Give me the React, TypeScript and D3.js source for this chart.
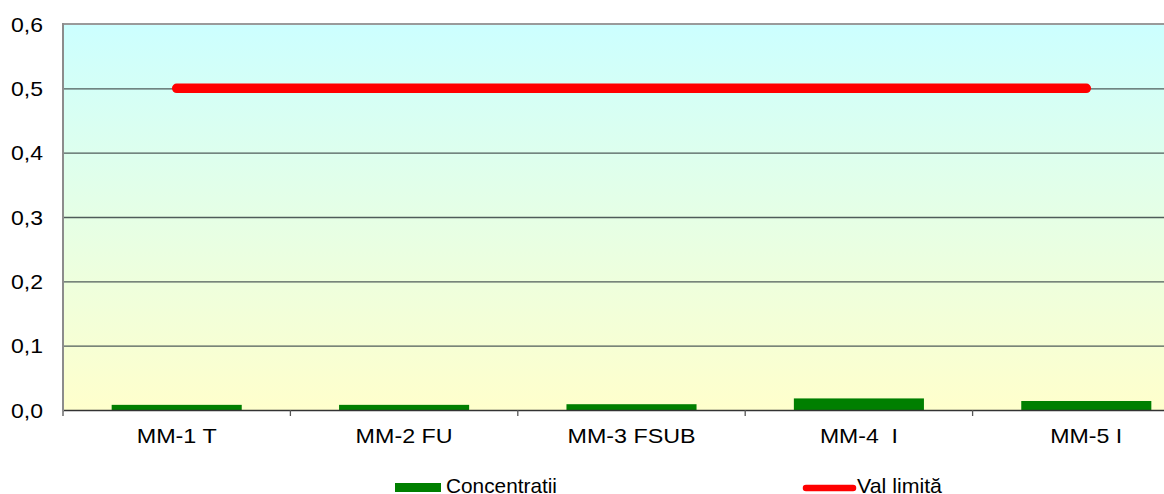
import React from "react";
import * as d3 from "d3";

const categories = ["MM-1 T", "MM-2 FU", "MM-3 FSUB", "MM-4  I", "MM-5 I"];
const categoryLabelWidths = [80, 97, 128, 78, 72];
const concentratii = [0.008, 0.008, 0.009, 0.018, 0.014];
const valLimita = [0.5, 0.5, 0.5, 0.5, 0.5];
const yTicks = [0, 0.1, 0.2, 0.3, 0.4, 0.5, 0.6];

const W = 1164;
const H = 494;
const plotLeft = 63;
const plotTop = 24;
const plotBottom = 410;
const plotRight = 1200;
const FONT = 21;

export default function App() {
  const x = d3.scaleBand<string>().domain(categories).range([plotLeft, plotRight]).paddingInner(0).paddingOuter(0);
  const y = d3.scaleLinear().domain([0, 0.6]).range([plotBottom, plotTop]);
  const barW = x.bandwidth() * 0.572;
  const fmt = (v: number) => v.toFixed(1).replace(".", ",");

  const line = d3
    .line<number>()
    .x((_, i) => (x(categories[i]) as number) + x.bandwidth() / 2)
    .y((d) => y(d));

  const boundaries = d3.range(categories.length + 1).map((i) => plotLeft + i * x.bandwidth());

  return (
    <svg
      width={W}
      height={H}
      style={{ position: "fixed", left: 0, top: 0, background: "#fff" }}
      fontFamily="'Liberation Sans', Arial, sans-serif"
    >
      <defs>
        <linearGradient id="bg" x1="0" y1="0" x2="0" y2="1">
          <stop offset="0%" stopColor="#ccffff" />
          <stop offset="100%" stopColor="#ffffcc" />
        </linearGradient>
      </defs>
      <rect x={plotLeft} y={plotTop} width={plotRight - plotLeft} height={plotBottom - plotTop} fill="url(#bg)" />
      <line x1={plotLeft} x2={plotRight} y1={plotTop} y2={plotTop} stroke="#9a9a9a" strokeWidth={2} />
      {yTicks.slice(1, -1).map((t) => (
        <line key={t} x1={plotLeft} x2={plotRight} y1={y(t) + 0.5} y2={y(t) + 0.5} stroke="#4f5c5a" strokeWidth={1.3} />
      ))}
      {concentratii.map((v, i) => {
        const cx = (x(categories[i]) as number) + x.bandwidth() / 2;
        return <rect key={i} x={cx - barW / 2} y={y(v)} width={barW} height={plotBottom - y(v)} fill="#007f00" />;
      })}
      <line x1={plotLeft} x2={plotRight} y1={plotBottom + 0.5} y2={plotBottom + 0.5} stroke="#333" strokeWidth={1.3} />
      {boundaries.map((bx, i) => (
        <line key={i} x1={bx} x2={bx} y1={plotBottom} y2={plotBottom + 6} stroke="#555" strokeWidth={1.3} />
      ))}
      <line x1={plotLeft} x2={plotLeft} y1={plotTop - 1} y2={plotBottom + 1} stroke="#8c8c8c" strokeWidth={2} />
      <path d={line(valLimita) ?? ""} fill="none" stroke="#ff0000" strokeWidth={9.5} strokeLinecap="round" />
      {yTicks.map((t) => (
        <text
          key={t}
          x={43}
          y={y(t)}
          dy="0.36em"
          textAnchor="end"
          fontSize={FONT}
          fill="#000"
          textLength={32}
          lengthAdjust="spacingAndGlyphs"
        >
          {fmt(t)}
        </text>
      ))}
      {categories.map((c, i) => (
        <text
          key={c}
          x={(x(c) as number) + x.bandwidth() / 2}
          y={443}
          textAnchor="middle"
          fontSize={FONT}
          fill="#000"
          style={{ whiteSpace: "pre" }}
          textLength={categoryLabelWidths[i]}
          lengthAdjust="spacingAndGlyphs"
        >
          {c}
        </text>
      ))}
      <rect x={395} y={483} width={46} height={9} fill="#007f00" />
      <text x={446} y={493} fontSize={FONT} fill="#000" textLength={111} lengthAdjust="spacingAndGlyphs">
        Concentratii
      </text>
      <line x1={806} x2={853} y1={488} y2={488} stroke="#ff0000" strokeWidth={6.5} strokeLinecap="round" />
      <text x={857} y={493} fontSize={FONT} fill="#000" textLength={85} lengthAdjust="spacingAndGlyphs">
        Val limită
      </text>
    </svg>
  );
}
